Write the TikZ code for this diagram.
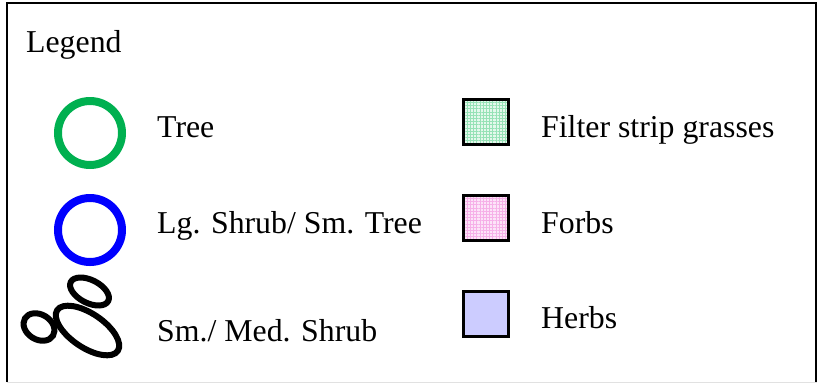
\documentclass[tikz,border=0pt]{standalone}
\usepackage{fontspec}
\setmainfont{Liberation Serif}
\usetikzlibrary{patterns.meta}

\definecolor{treegreen}{RGB}{0,176,80}
\definecolor{shrubblue}{RGB}{0,0,255}
\definecolor{herbfill}{RGB}{204,204,255}
\definecolor{grassbg}{RGB}{228,248,236}
\definecolor{grassline}{RGB}{150,226,182}
\definecolor{forbbg}{RGB}{252,228,248}
\definecolor{forbline}{RGB}{246,176,232}
\definecolor{edgegray}{RGB}{225,225,225}

\tikzset{
  label/.style={anchor=base west, inner sep=0pt, font=\fontsize{31.8}{38}\selectfont},
  ring/.style={circle, draw, line width=8pt, minimum size=64pt, inner sep=0pt},
  swatch/.style={rectangle, draw=black, line width=3pt, minimum size=45pt, inner sep=0pt},
  shrub/.style={draw=black, line width=6pt},
  hatched/.style 2 args={
    preaction={fill=#1},
    preaction={pattern={Lines[angle=0, distance=3.2pt, line width=1pt]}, pattern color=#2},
    pattern={Lines[angle=90, distance=3.2pt, line width=1pt]}, pattern color=#2}
}

\begin{document}
\begin{tikzpicture}[x=1pt, y=-1pt]
  \useasboundingbox (0,0) rectangle (817,384);

  % frame
  \draw[edgegray, line width=1.5pt] (7,382.5) -- (817,382.5);
  \draw[black, line width=2pt] (7,382) -- (7,3) -- (815.5,3) -- (815.5,382);

  % title
  \node[label] (title) at (26,52) {Legend};

  % left column symbols
  \node[ring, draw=treegreen] (tree) at (90,133) {};
  \node[ring, draw=shrubblue] (lgshrub) at (90,230) {};

  % small / medium shrub: three overlapping ellipses
  \draw[shrub, rotate around={-32:(39,327)}] (39,327) ellipse [x radius=16.5pt, y radius=12.5pt];
  \draw[shrub, rotate around={-34:(87.5,330.5)}] (87.5,330.5) ellipse [x radius=36.5pt, y radius=17pt];
  \draw[shrub, rotate around={-27:(89.5,291.5)}] (89.5,291.5) ellipse [x radius=21pt, y radius=11.5pt];

  % left column labels
  \node[label] (treetxt) at (157,137) {Tree};
  \node[label] (lgshrubtxt) at (157,233) {Lg. Shrub/ Sm. Tree};
  \node[label] (smshrubtxt) at (157,341) {Sm./ Med. Shrub};

  % right column swatches
  \node[swatch, hatched={grassbg}{grassline}] (grass) at (486,122) {};
  \node[swatch, hatched={forbbg}{forbline}] (forbs) at (486,218) {};
  \node[swatch, fill=herbfill] (herbs) at (486,313.5) {};

  % right column labels
  \node[label] (grasstxt) at (541,137) {Filter strip grasses};
  \node[label] (forbstxt) at (541,233) {Forbs};
  \node[label] (herbstxt) at (541,328) {Herbs};
\end{tikzpicture}
\end{document}
